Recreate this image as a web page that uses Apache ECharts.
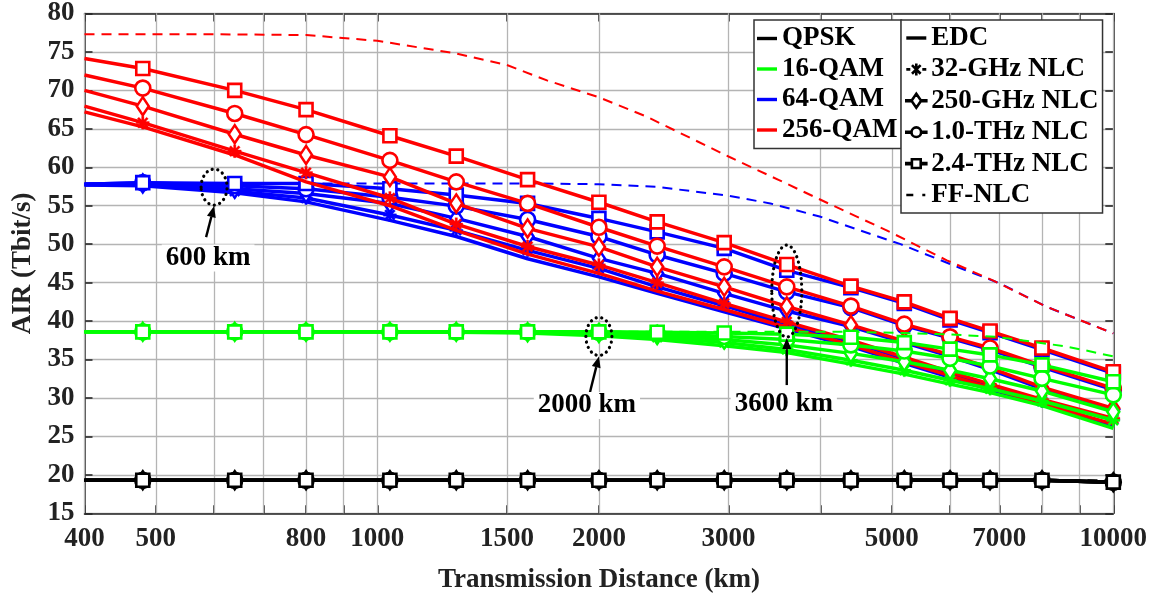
<!DOCTYPE html>
<html><head><meta charset="utf-8">
<script src="https://cdn.jsdelivr.net/npm/echarts@6/dist/echarts.min.js"></script>
<style>html,body{margin:0;padding:0;background:#fff}#c{width:1164px;height:599px}</style>
</head><body><div id="c"></div>
<script>
// ---------------- data ----------------
const dist = [400,480,640,800,1040,1280,1600,2000,2400,2960,3600,4400,5200,6000,6800,8000,10000];
const xTickLabels = [400,500,800,1000,1500,2000,3000,5000,7000,10000];
const xGridValues = [400,500,600,700,800,900,1000,1500,2000,3000,4000,5000,6000,7000,8000,9000,10000];

// QPSK
const qpsk_EDC  = [19.3,19.3,19.3,19.3,19.3,19.3,19.3,19.3,19.3,19.3,19.3,19.3,19.3,19.3,19.3,19.3,19.05];
const qpsk_32G  = [19.3,19.3,19.3,19.3,19.3,19.3,19.3,19.3,19.3,19.3,19.3,19.3,19.3,19.3,19.3,19.3,19.05];
const qpsk_250G = [19.3,19.3,19.3,19.3,19.3,19.3,19.3,19.3,19.3,19.3,19.3,19.3,19.3,19.3,19.3,19.3,19.05];
const qpsk_10T  = [19.3,19.3,19.3,19.3,19.3,19.3,19.3,19.3,19.3,19.3,19.3,19.3,19.3,19.3,19.3,19.3,19.05];
const qpsk_24T  = [19.3,19.3,19.3,19.3,19.3,19.3,19.3,19.3,19.3,19.3,19.3,19.3,19.3,19.3,19.3,19.3,19.05];
const ffX_qpsk  = [400,10000];
const ff_qpsk   = [19.3,19.3];

// 16-QAM
const q16_EDC  = [38.6,38.6,38.6,38.6,38.6,38.55,38.45,38.1,37.6,36.8,35.9,34.4,33.1,31.8,30.7,29.0,26.05];
const q16_32G  = [38.6,38.6,38.6,38.6,38.6,38.6,38.5,38.3,37.9,37.2,36.3,34.9,33.6,32.3,31.2,29.6,27.1];
const q16_250G = [38.6,38.6,38.6,38.6,38.6,38.6,38.55,38.45,38.2,37.6,36.9,35.8,34.7,33.6,32.5,30.9,28.2];
const q16_10T  = [38.6,38.6,38.6,38.6,38.6,38.6,38.6,38.55,38.4,38.0,37.6,36.9,36.1,35.15,34.15,32.55,30.4];
const q16_24T  = [38.6,38.6,38.6,38.6,38.6,38.6,38.6,38.6,38.55,38.45,38.3,37.9,37.2,36.35,35.6,34.3,32.1];
const ffX_16   = [400,3000,4400,5200,6000,6910,7590,8550,9160,10000];
const ff_16    = [38.6,38.6,38.6,38.45,38.25,37.96,37.44,36.75,36.2,35.4];

// 64-QAM
const q64_EDC  = [57.7,57.6,56.7,55.5,53.1,51.0,48.1,45.75,43.6,41.2,39.0,36.7,34.5,32.7,31.1,29.1,26.4];
const q64_32G  = [57.7,57.8,56.9,56.0,53.8,51.8,49.2,46.85,44.45,42.0,39.5,37.3,35.1,33.2,31.6,29.6,27.2];
const q64_250G = [57.8,57.9,57.2,56.6,55.3,53.35,51.0,48.15,46.2,43.6,41.3,39.3,37.2,35.4,33.7,31.2,28.5];
const q64_10T  = [57.8,58.0,57.6,57.2,56.1,54.95,53.2,51.0,48.6,46.2,43.8,41.75,39.4,37.8,36.3,34.0,31.05];
const q64_24T  = [57.8,58.0,57.9,57.9,57.2,56.4,55.3,53.35,51.6,49.45,46.6,44.35,42.3,40.15,38.5,36.3,33.2];
const ffX_64   = [400,1000,1600,2000,2400,3000,3420,3990,4525,5140,6190,7010,8120,10000];
const ff_64    = [57.9,57.9,57.9,57.8,57.45,56.3,55.3,53.6,51.8,50.0,46.9,44.9,41.85,38.4];

// 256-QAM
const q256_EDC  = [67.2,65.25,61.6,58.1,55.0,51.8,48.7,46.2,43.9,41.5,39.2,36.9,34.7,32.9,31.3,29.3,26.6];
const q256_32G  = [67.95,65.8,62.1,59.3,56.0,52.6,49.7,47.3,45.0,42.3,39.9,37.5,35.3,33.4,31.8,29.8,27.35];
const q256_250G = [70.0,67.95,64.3,61.6,58.75,55.3,52.05,49.65,47.05,44.45,41.9,39.5,37.4,35.6,33.9,31.4,28.65];
const q256_10T  = [72.0,70.3,67.0,64.25,60.9,58.1,55.3,52.2,49.75,47.05,44.45,41.95,39.6,37.95,36.5,34.2,31.25];
const q256_24T  = [74.15,72.85,70.0,67.5,64.1,61.45,58.4,55.45,52.9,50.2,47.35,44.55,42.5,40.35,38.7,36.5,33.4];
const ffX_256   = [400,600,800,1000,1280,1500,1700,2000,2320,3000,3520,4100,4920,5940,6860,8120,10000];
const ff_256    = [77.3,77.3,77.2,76.45,74.8,73.3,71.3,69.1,66.6,61.4,58.3,55.3,51.8,47.9,45.3,41.85,38.4];

const fmtNames   = ['QPSK','16-QAM','64-QAM','256-QAM'];
const nlcNames   = ['EDC','32-GHz NLC','250-GHz NLC','1.0-THz NLC','2.4-THz NLC','FF-NLC'];

// ---------------- styling ----------------
const FONT = 'Liberation Serif';
const AX = '#262626';
const GRID = '#b4b4b4';
const colors = {'QPSK':'#000000','16-QAM':'#00ff00','64-QAM':'#0000ff','256-QAM':'#ff0000'};

function bar(x1,y1,x2,y2,w){
  const dx=x2-x1, dy=y2-y1, L=Math.hypot(dx,dy), nx=-dy/L*w/2, ny=dx/L*w/2;
  return 'M'+(x1+nx)+','+(y1+ny)+'L'+(x2+nx)+','+(y2+ny)+'L'+(x2-nx)+','+(y2-ny)+'L'+(x1-nx)+','+(y1-ny)+'Z';
}
function asteriskAt(cx,cy,r,w){
  const d = r*0.72;
  return bar(cx-r,cy,cx+r,cy,w) + bar(cx,cy-r,cx,cy+r,w) + bar(cx-d,cy-d,cx+d,cy+d,w) + bar(cx-d,cy+d,cx+d,cy-d,w);
}
const asterisk = 'path://' + asteriskAt(10,10,10,3.6);

const markers = {
  'EDC':         null,
  '32-GHz NLC':  {symbol: asterisk, size: 13, hollow: false},
  '250-GHz NLC': {symbol: 'diamond', size: [12,18], hollow: true},
  '1.0-THz NLC': {symbol: 'circle', size: 15, hollow: true},
  '2.4-THz NLC': {symbol: 'rect', size: 13, hollow: true}
};

const table = {
  'QPSK':    {vals:[qpsk_EDC,qpsk_32G,qpsk_250G,qpsk_10T,qpsk_24T], ffX:ffX_qpsk, ff:ff_qpsk},
  '16-QAM':  {vals:[q16_EDC,q16_32G,q16_250G,q16_10T,q16_24T], ffX:ffX_16, ff:ff_16},
  '64-QAM':  {vals:[q64_EDC,q64_32G,q64_250G,q64_10T,q64_24T], ffX:ffX_64, ff:ff_64},
  '256-QAM': {vals:[q256_EDC,q256_32G,q256_250G,q256_10T,q256_24T], ffX:ffX_256, ff:ff_256}
};

function markerItemStyle(m, color){
  if (!m) return {color: color};
  return m.hollow ? {color:'#ffffff', borderColor: color, borderWidth: 2.6}
                  : {color: color, borderColor: color, borderWidth: 0.3};
}

const series = [];
const drawOrder = ['64-QAM','256-QAM','16-QAM','QPSK'];
drawOrder.forEach((f, fi) => {
  const c = colors[f];
  const t = table[f];
  series.push({
    type:'line', name: f + ' FF-NLC', xAxisIndex:0, yAxisIndex:0,
    data: t.ffX.map((x,i)=>[x, t.ff[i]]),
    showSymbol:false, symbol:'none', clip:false, z: 3 + fi,
    lineStyle:{color:c, width:2, type:[10,7]},
    emphasis:{disabled:true}, silent:true
  });
  nlcNames.slice(0,5).forEach((n, ni) => {
    const m = markers[n];
    const vals = t.vals[ni];
    series.push({
      type:'line', name: f + ' ' + n, xAxisIndex:0, yAxisIndex:0,
      data: dist.map((d,i)=> i===0 ? {value:[d, vals[i]], symbol:'none'} : [d, vals[i]]),
      symbol: m ? m.symbol : 'none',
      symbolSize: m ? m.size : 0,
      showSymbol: !!m, showAllSymbol: true, clip:false, z: 3 + fi,
      lineStyle:{color:c, width:3.5},
      itemStyle: markerItemStyle(m, c),
      emphasis:{disabled:true}, silent:true
    });
  });
});

// legend-only series
fmtNames.forEach(f => series.push({type:'line', name:f, data:[], symbol:'none', lineStyle:{color:colors[f], width:3.5}, itemStyle:{color:colors[f]}}));
nlcNames.forEach(n => series.push({type:'line', name:n, data:[], symbol:'none', lineStyle:{color:'#000', width:3.5}, itemStyle:{color:'#000'}}));

// legend icons (drawn in a W x H box)
const IW = 20, IH = 16;
const box = 'M0,0M' + IW + ',' + IH;
const cy = IH/2, cxm = IW/2;
function hbar(x1,x2,t){ return 'M'+x1+','+(cy-t/2)+'L'+x2+','+(cy-t/2)+'L'+x2+','+(cy+t/2)+'L'+x1+','+(cy+t/2)+'Z'; }
const iconLine = 'path://' + box + hbar(0, IW, 3.4);
const iconDash = 'path://' + box + hbar(0, 7, 2.4) + hbar(16, 19, 2.4);
const iconAst  = 'path://' + box + hbar(0, IW, 2.8) + asteriskAt(cxm, cy, 6, 2.6);
const iconDia  = 'path://' + box + hbar(0, cxm-6, 1) + 'M'+cxm+','+(cy-7)+'L'+(cxm+4.8)+','+cy+'L'+cxm+','+(cy+7)+'L'+(cxm-4.8)+','+cy+'Z' + hbar(cxm+6, IW, 1);
const iconCir  = 'path://' + box + hbar(0, cxm-6, 1) + 'M'+(cxm-4.8)+','+cy+'A4.8,4.8 0 1,0 '+(cxm+4.8)+','+cy+'A4.8,4.8 0 1,0 '+(cxm-4.8)+','+cy+'Z' + hbar(cxm+6, IW, 1);
const iconSq   = 'path://' + box + hbar(0, cxm-6, 1) + 'M'+(cxm-4.4)+','+(cy-4.4)+'L'+(cxm+4.4)+','+(cy-4.4)+'L'+(cxm+4.4)+','+(cy+4.4)+'L'+(cxm-4.4)+','+(cy+4.4)+'Z' + hbar(cxm+6, IW, 1);

const filled = c => ({color:c, borderColor:c, borderWidth:0});
const hollow = {color:'#fff', borderColor:'#000', borderWidth:2.6};
const legend1Data = fmtNames.map(f => ({name:f, icon:iconLine, itemStyle:filled(colors[f])}));
const legend2Icons = [iconLine, iconAst, iconDia, iconCir, iconSq, iconDash];
const legend2Styles = [filled('#000'), filled('#000'), hollow, hollow, hollow, filled('#000')];
const legend2Data = nlcNames.map((n,i) => ({name:n, icon:legend2Icons[i], itemStyle:legend2Styles[i]}));

const labelStyle = {fontFamily:FONT, fontWeight:'bold', fontSize:27, color:'#222'};
const baseX = {type:'log', logBase:10, min:400, max:10000, gridIndex:0, splitLine:{show:false}, minorTick:{show:false}, minorSplitLine:{show:false}};
const legendText = {fontFamily:FONT, fontWeight:'bold', fontSize:27, lineHeight:27, color:'#000'};

const option = {
  animation:false,
  backgroundColor:'#ffffff',
  grid:{left:84.5, right:50.7, top:13.3, bottom:85.7, containLabel:false},
  xAxis:[
    Object.assign({}, baseX, {
      position:'bottom',
      axisLine:{show:true, onZero:false, lineStyle:{color:AX, width:1.6}},
      axisTick:{show:true, inside:true, length:8, customValues:xGridValues, lineStyle:{color:AX, width:1.6}},
      axisLabel:Object.assign({customValues:xTickLabels, margin:12, formatter:v=>String(Math.round(v))}, labelStyle),
      name:'Transmission Distance (km)', nameLocation:'middle', nameGap:53,
      nameTextStyle:{fontFamily:FONT, fontWeight:'bold', fontSize:27, color:'#222'}
    }),
    Object.assign({}, baseX, {
      position:'top',
      axisLine:{show:true, onZero:false, lineStyle:{color:AX, width:1.6}},
      axisTick:{show:true, inside:true, length:8, customValues:xGridValues, lineStyle:{color:AX, width:1.6}},
      axisLabel:{show:false}
    }),
    Object.assign({}, baseX, {
      position:'bottom',
      axisLine:{show:false},
      axisTick:{show:true, inside:true, length:500, customValues:xGridValues, lineStyle:{color:GRID, width:1.3}},
      axisLabel:{show:false}
    })
  ],
  yAxis:[
    {type:'value', min:15, max:80, interval:5, position:'left',
     axisLine:{show:true, onZero:false, lineStyle:{color:AX, width:1.6}},
     axisTick:{show:true, inside:true, length:8, lineStyle:{color:AX, width:1.6}},
     axisLabel:Object.assign({margin:10}, labelStyle),
     splitLine:{show:true, lineStyle:{color:GRID, width:1.3}},
     name:'AIR (Tbit/s)', nameLocation:'middle', nameGap:40, nameRotate:90,
     nameTextStyle:{fontFamily:FONT, fontWeight:'bold', fontSize:27, color:'#222'}},
    {type:'value', min:15, max:80, interval:5, position:'right',
     axisLine:{show:true, onZero:false, lineStyle:{color:AX, width:1.6}},
     axisTick:{show:true, inside:true, length:8, lineStyle:{color:AX, width:1.6}},
     axisLabel:{show:false}, splitLine:{show:false}}
  ],
  legend:[
    {data:legend1Data, orient:'vertical', left:754, top:20, itemWidth:IW, itemHeight:IH, itemGap:3.5,
     padding:[5,4,5,3], backgroundColor:'#fff', borderColor:'#333', borderWidth:1.5, selectedMode:false,
     textStyle:legendText},
    {data:legend2Data, orient:'vertical', left:901, top:20, itemWidth:IW, itemHeight:IH, itemGap:4.4,
     padding:[4.5,4,4.5,4], backgroundColor:'#fff', borderColor:'#333', borderWidth:1.5, selectedMode:false,
     textStyle:legendText}
  ],
  tooltip:{show:false},
  series: series
};

const chart = echarts.init(document.getElementById('c'), null, {renderer:'canvas'});
chart.setOption(option);

// annotations
const annotations = [
  {km:600,  v:57.42, rx:13, ry:18, label:'600 km',  tail:[-8,50], text:[-6,71]},
  {km:2000, v:38.0,  rx:13, ry:19, label:'2000 km', tail:[-9,56], text:[-12,69]},
  {km:3600, v:43.9,  rx:15, ry:46, label:'3600 km', tail:[0,94],  text:[-3,113]}
];
const g = [];
annotations.forEach(a => {
  const p = chart.convertToPixel({xAxisIndex:0, yAxisIndex:0}, [a.km, a.v]);
  const cx = p[0], cy = p[1];
  g.push({type:'ellipse', shape:{cx:cx, cy:cy, rx:a.rx, ry:a.ry}, z:50,
          style:{fill:null, stroke:'#000', lineWidth:3.2, lineDash:[0.1,5.5], lineCap:'round'}});
  const tx = cx + a.tail[0], ty = cy + a.tail[1];
  const hx = cx, hy = cy + a.ry + 1;
  const dx = hx - tx, dy = hy - ty, L = Math.hypot(dx,dy), ux = dx/L, uy = dy/L;
  const bx = hx - ux*11, by = hy - uy*11;
  g.push({type:'line', shape:{x1:tx, y1:ty, x2:bx, y2:by}, z:50, style:{stroke:'#000', lineWidth:2.4}});
  g.push({type:'polygon', shape:{points:[[hx,hy],[bx - uy*4.5, by + ux*4.5],[bx + uy*4.5, by - ux*4.5]]}, z:50, style:{fill:'#000'}});
  g.push({type:'text', z:50, x: cx + a.text[0], y: cy + a.text[1],
          style:{text:a.label, font:'bold 27px "Liberation Serif"', fill:'#000', align:'center', verticalAlign:'middle',
                 backgroundColor:'#fff', padding:[0,4]}});
});
chart.setOption({graphic:g});
</script>
</body></html>
